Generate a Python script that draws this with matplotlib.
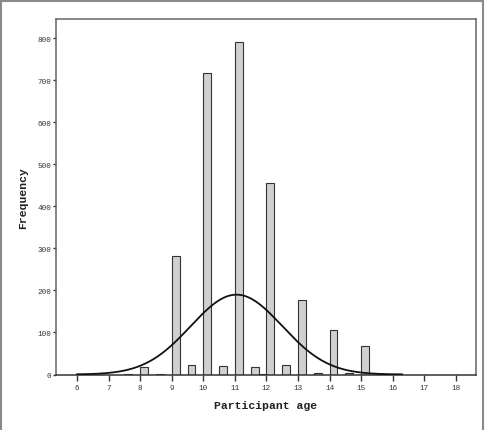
import matplotlib
matplotlib.use("Agg")
import matplotlib.pyplot as plt
import numpy as np
from matplotlib.lines import Line2D

# Histogram bins (left edges, width 0.25) and frequencies
bin_left = [7.5, 8.0, 8.5, 9.0, 9.5, 10.0, 10.5, 11.0, 11.5, 11.75, 12.0, 12.5,
            13.0, 13.5, 14.0, 14.5, 15.0, 15.5, 16.0]
freq = [0.5, 19, 1, 283, 23, 718, 20, 792, 17, 1, 456, 23,
        177, 4, 107, 3, 69, 1, 1.5]
bin_width = 0.25

# Fitted normal curve parameters
norm_mean = 11.05
norm_sd = 1.45
norm_peak = 190

xticks = list(range(6, 19))
yticks = list(range(0, 900, 100))

W, H = 489, 431
fig = plt.figure(figsize=(W / 100, H / 100), dpi=100)
ax = fig.add_axes([55.7 / W, 1 - 375.5 / H, (476 - 55.7) / W, (375.5 - 20) / H])

ax.bar(bin_left, freq, width=bin_width, align="edge", color="#d0d0d0",
       edgecolor="#333333", linewidth=0.8, zorder=2)

xs = np.linspace(6.0, 16.3, 400)
ys = norm_peak * np.exp(-0.5 * ((xs - norm_mean) / norm_sd) ** 2)
ax.plot(xs, ys, color="#111111", linewidth=1.3, zorder=3)

ax.set_xlim(5.32, 18.64)
ax.set_ylim(0, 846)
ax.set_xticks(xticks)
ax.set_yticks(yticks)
mono = "Liberation Mono"
ax.set_xticklabels([str(t) for t in xticks], fontfamily=mono, fontsize=5.5, color="#333333")
ax.set_yticklabels([str(t) for t in yticks], fontfamily=mono, fontsize=5.5, color="#333333")
ax.tick_params(axis="x", direction="out", length=4, width=1.0, color="#333333", pad=3)
ax.tick_params(axis="y", direction="out", length=2.5, width=1.0, color="#333333", pad=0.5)

for s in ax.spines.values():
    s.set_color("#666666")
    s.set_linewidth(1.1)
ax.spines["bottom"].set_color("#333333")

ax.set_xlabel("Participant age", fontfamily=mono, fontweight="bold", fontsize=8.2,
              color="#222222", labelpad=6)
ax.set_ylabel("Frequency", fontfamily=mono, fontweight="bold", fontsize=8.2,
              color="#222222", labelpad=7)

# outer figure border (bottom edge cut off)
bc = "#8a8a8a"
x0, x1, y1 = 1.5 / W, 483.5 / W, 1 - 1.5 / H
fig.add_artist(Line2D([x0, x0], [0, y1], color=bc, linewidth=1.5, transform=fig.transFigure))
fig.add_artist(Line2D([x0, x1], [y1, y1], color=bc, linewidth=1.5, transform=fig.transFigure))
fig.add_artist(Line2D([x1, x1], [0, y1], color=bc, linewidth=1.5, transform=fig.transFigure))

fig.savefig("out.png", dpi=100)
